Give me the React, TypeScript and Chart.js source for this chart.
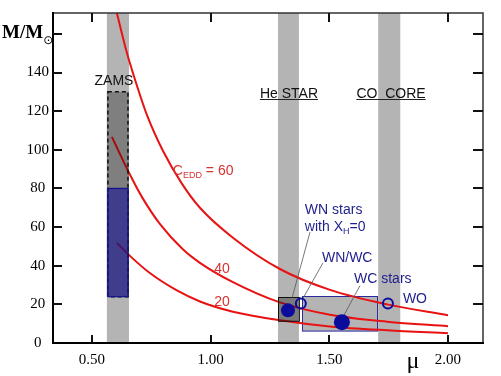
import React, { useEffect, useRef } from "react";
import { Chart, registerables } from "chart.js";
Chart.register(...registerables);

// ---------- axes ----------
const X_MIN = 0.336;
const X_MAX = 2.1475;
const Y_MIN = 0;
const Y_MAX = 170.8;
const xTickValues = [0.5, 1.0, 1.5, 2.0];
const yTickValues = [0, 20, 40, 60, 80, 100, 120, 140];
const yFrameTicks = [20, 40, 60, 80, 100, 120, 140, 160];

// ---------- C_EDD curves (mu, M/Msun) ----------
const c60Mu = [0.605, 0.647, 0.681, 0.732, 0.799, 0.879, 0.955, 1.094, 1.292, 1.503, 1.743, 2.0];
const c60M = [170.8, 150.3, 136.5, 117.9, 99.5, 82.5, 70.0, 54.5, 38.3, 27.5, 20.0, 14.4];
const c40Mu = [0.584, 0.66, 0.711, 0.787, 0.883, 0.955, 1.094, 1.292, 1.503, 1.743, 2.0];
const c40M = [106.7, 87.2, 75.5, 61.5, 48.5, 41.5, 31.5, 21.0, 14.6, 11.0, 8.7];
const c20Mu = [0.605, 0.66, 0.744, 0.858, 0.955, 1.094, 1.292, 1.503, 1.743, 2.0];
const c20M = [51.8, 45.1, 36.2, 27.2, 21.5, 16.2, 11.8, 8.6, 6.6, 5.1];

// ---------- grey evolutionary bands (mu ranges) ----------
const bandFrom = [0.563, 1.284, 1.706];
const bandTo = [0.656, 1.372, 1.799];

// ---------- boxes ----------
const zamsMu = [0.563, 0.656];
const zamsGreyM = [80, 130];
const zamsBlueM = [24, 80];
const wnBoxMu = [1.284, 1.372];
const wnBoxM = [11.3, 23.6];
const wcBoxMu = [1.385, 1.701];
const wcBoxM = [6.2, 24.1];

// ---------- stars ----------
const filledMu = [1.326, 1.553];
const filledM = [16.9, 10.8];
const filledRadius = [7, 8];
const openMu = [1.38, 1.747];
const openM = [20.5, 20.5];

// ---------- styles ----------
const SERIF = "'Liberation Serif', 'Times New Roman', serif";
const SANS = "'Liberation Sans', Arial, sans-serif";
const BAND = "#b4b4b4";
const RED = "rgb(232,18,18)";
const RED_TEXT = "#d83232";
const NAVY = "#1e1e8c";
const STAR_BLUE = "#0c0c9c";

type Part = { t: string; sub?: boolean };
type Label = { parts: Part[]; mu: number; m: number; color: string; align: "left" | "center"; underline?: boolean };

const labels: Label[] = [
  { parts: [{ t: "ZAMS" }], mu: 0.593, m: 133.3, color: "#111", align: "center" },
  { parts: [{ t: "He STAR" }], mu: 1.33, m: 126.7, color: "#111", align: "center", underline: true },
  { parts: [{ t: "CO  CORE" }], mu: 1.76, m: 126.7, color: "#111", align: "center", underline: true },
  { parts: [{ t: "C" }, { t: "EDD", sub: true }, { t: " = 60" }], mu: 0.841, m: 87.2, color: RED_TEXT, align: "left" },
  { parts: [{ t: "40" }], mu: 1.048, m: 36.4, color: RED_TEXT, align: "center" },
  { parts: [{ t: "20" }], mu: 1.048, m: 19.0, color: RED_TEXT, align: "center" },
  { parts: [{ t: "WN stars" }], mu: 1.397, m: 66.7, color: NAVY, align: "left" },
  { parts: [{ t: "with X" }, { t: "H", sub: true }, { t: "=0" }], mu: 1.397, m: 57.9, color: NAVY, align: "left" },
  { parts: [{ t: "WN/WC" }], mu: 1.469, m: 42.0, color: NAVY, align: "left" },
  { parts: [{ t: "WC stars" }], mu: 1.604, m: 30.8, color: NAVY, align: "left" },
  { parts: [{ t: "WO" }], mu: 1.81, m: 20.5, color: NAVY, align: "left" },
];

const leaders = [
  [1.4186, 57.4, 1.3427, 23.1],
  [1.4734, 41.5, 1.3891, 23.1],
  [1.6293, 29.7, 1.5619, 14.4],
];

function pts(xs: number[], ys: number[]) {
  return xs.map((x, i) => ({ x, y: ys[i] }));
}

function drawParts(ctx: CanvasRenderingContext2D, parts: Part[], x: number, y: number, size: number, color: string, align: string) {
  const main = `${size}px ${SANS}`;
  const sub = `${Math.round(size * 0.64)}px ${SANS}`;
  let w = 0;
  const ws: number[] = [];
  for (const p of parts) {
    ctx.font = p.sub ? sub : main;
    const pw = ctx.measureText(p.t).width;
    ws.push(pw);
    w += pw;
  }
  let cx = align === "center" ? x - w / 2 : x;
  const left = cx;
  ctx.fillStyle = color;
  ctx.textBaseline = "alphabetic";
  ctx.textAlign = "left";
  parts.forEach((p, i) => {
    ctx.font = p.sub ? sub : main;
    ctx.fillText(p.t, cx, p.sub ? y + 3 : y);
    cx += ws[i];
  });
  return { left, width: w };
}

const overlayPlugin = {
  id: "overlay",
  beforeDatasetsDraw(chart: any) {
    const { ctx, chartArea: a, scales } = chart;
    const x = scales.x, y = scales.y;
    chart.$boxesDone = false;
    ctx.save();
    ctx.beginPath();
    ctx.rect(a.left, a.top, a.right - a.left, a.bottom - a.top);
    ctx.clip();
    ctx.fillStyle = BAND;
    bandFrom.forEach((lo, i) => {
      const x0 = x.getPixelForValue(lo);
      const x1 = x.getPixelForValue(bandTo[i]);
      ctx.fillRect(x0, a.top, x1 - x0, a.bottom - a.top);
    });
    // WC/WO region box
    const bx0 = x.getPixelForValue(wcBoxMu[0]);
    const bx1 = x.getPixelForValue(wcBoxMu[1]);
    const by0 = y.getPixelForValue(wcBoxM[1]);
    const by1 = y.getPixelForValue(wcBoxM[0]);
    ctx.fillStyle = BAND;
    ctx.fillRect(bx0, by0, bx1 - bx0, by1 - by0);
    ctx.strokeStyle = "#2a2a9e";
    ctx.lineWidth = 1;
    ctx.strokeRect(Math.round(bx0) + 0.5, Math.round(by0) + 0.5, bx1 - bx0, by1 - by0);
    ctx.restore();
  },
  beforeDatasetDraw(chart: any, args: any) {
    const ds = chart.data.datasets[args.index];
    if (!ds.isMarker || chart.$boxesDone) return;
    chart.$boxesDone = true;
    const { ctx, scales } = chart;
    const x = scales.x, y = scales.y;
    ctx.save();
    const zx0 = x.getPixelForValue(zamsMu[0]);
    const zx1 = x.getPixelForValue(zamsMu[1]);
    // grey ZAMS box
    const gy0 = y.getPixelForValue(zamsGreyM[1]);
    const gy1 = y.getPixelForValue(zamsGreyM[0]);
    ctx.fillStyle = "rgba(0,0,0,0.29)";
    ctx.fillRect(zx0, gy0, zx1 - zx0, gy1 - gy0);
    // blue ZAMS box
    const by0 = y.getPixelForValue(zamsBlueM[1]);
    const by1 = y.getPixelForValue(zamsBlueM[0]);
    ctx.fillStyle = "rgba(24,21,127,0.75)";
    ctx.fillRect(zx0, by0, zx1 - zx0, by1 - by0);
    // dashed outline
    ctx.setLineDash([4, 3]);
    ctx.strokeStyle = "#111";
    ctx.lineWidth = 1.5;
    ctx.strokeRect(zx0 + 1, gy0, zx1 - zx0 - 2, by1 - gy0);
    ctx.setLineDash([]);
    ctx.strokeStyle = "#16168a";
    ctx.lineWidth = 1.3;
    ctx.strokeRect(zx0 + 1, by0, zx1 - zx0 - 2, by1 - by0);
    // WN box
    const wx0 = x.getPixelForValue(wnBoxMu[0]);
    const wx1 = x.getPixelForValue(wnBoxMu[1]);
    const wy0 = y.getPixelForValue(wnBoxM[1]);
    const wy1 = y.getPixelForValue(wnBoxM[0]);
    ctx.fillStyle = "rgba(0,0,0,0.32)";
    ctx.fillRect(wx0, wy0, wx1 - wx0, wy1 - wy0);
    ctx.strokeStyle = "#111";
    ctx.lineWidth = 1;
    ctx.strokeRect(Math.round(wx0) + 0.5, Math.round(wy0) + 0.5, wx1 - wx0, wy1 - wy0);
    // leader lines
    ctx.strokeStyle = "#555";
    ctx.lineWidth = 0.8;
    for (const [m1, v1, m2, v2] of leaders) {
      ctx.beginPath();
      ctx.moveTo(x.getPixelForValue(m1), y.getPixelForValue(v1));
      ctx.lineTo(x.getPixelForValue(m2), y.getPixelForValue(v2));
      ctx.stroke();
    }
    ctx.restore();
  },
  afterDraw(chart: any) {
    const { ctx, chartArea: a, scales } = chart;
    const x = scales.x, y = scales.y;
    ctx.save();
    // labels
    for (const l of labels) {
      const px = x.getPixelForValue(l.mu);
      const py = y.getPixelForValue(l.m);
      const r = drawParts(ctx, l.parts, px, py, 14, l.color, l.align);
      if (l.underline) {
        ctx.strokeStyle = "#222";
        ctx.lineWidth = 1;
        ctx.beginPath();
        ctx.moveTo(r.left, Math.round(py) + 1.5);
        ctx.lineTo(r.left + r.width, Math.round(py) + 1.5);
        ctx.stroke();
      }
    }
    // frame
    ctx.strokeStyle = "#333";
    ctx.lineWidth = 1.5;
    ctx.beginPath();
    ctx.moveTo(a.left, a.top);
    ctx.lineTo(a.right, a.top);
    ctx.lineTo(a.right, a.bottom);
    ctx.stroke();
    ctx.strokeStyle = "#000";
    ctx.lineWidth = 2;
    ctx.beginPath();
    ctx.moveTo(a.left, a.top - 1);
    ctx.lineTo(a.left, a.bottom);
    ctx.lineTo(a.right + 1, a.bottom);
    ctx.stroke();
    // inward ticks
    ctx.lineWidth = 2;
    ctx.strokeStyle = "#111";
    for (const v of xTickValues) {
      const px = Math.round(x.getPixelForValue(v));
      ctx.beginPath();
      ctx.moveTo(px, a.bottom);
      ctx.lineTo(px, a.bottom - 8);
      ctx.moveTo(px, a.top);
      ctx.lineTo(px, a.top + 9);
      ctx.stroke();
    }
    for (const v of yFrameTicks) {
      const py = Math.round(y.getPixelForValue(v));
      ctx.beginPath();
      ctx.moveTo(a.left, py);
      ctx.lineTo(a.left + 9, py);
      ctx.moveTo(a.right, py);
      ctx.lineTo(a.right - 10, py);
      ctx.stroke();
    }
    // axis titles
    ctx.fillStyle = "#000";
    ctx.textAlign = "left";
    ctx.textBaseline = "alphabetic";
    ctx.font = `bold 19px ${SERIF}`;
    ctx.fillText("M/M", 2, 38);
    const mw = ctx.measureText("M/M").width;
    ctx.font = `12px 'DejaVu Sans', sans-serif`;
    ctx.fillText("\u2299", 2 + mw, 44);
    ctx.font = `24px ${SERIF}`;
    ctx.textAlign = "center";
    ctx.fillText("\u03bc", 413, 368);
    ctx.restore();
  },
};

export default function App() {
  const ref = useRef<HTMLCanvasElement>(null);
  useEffect(() => {
    const canvas = ref.current!;
    const curve = (xs: number[], ys: number[]) => ({
      data: pts(xs, ys),
      showLine: true,
      borderColor: RED,
      borderWidth: 2,
      pointRadius: 0,
      cubicInterpolationMode: "monotone",
      fill: false,
      order: 1,
    });
    const chart = new Chart(canvas, {
      type: "scatter",
      data: {
        datasets: [
          {
            data: pts(filledMu, filledM),
            pointRadius: filledRadius,
            pointBackgroundColor: STAR_BLUE,
            pointBorderColor: STAR_BLUE,
            pointBorderWidth: 0,
            order: 0,
            isMarker: true,
          } as any,
          {
            data: pts(openMu, openM),
            pointRadius: 5,
            pointBackgroundColor: "rgba(0,0,0,0)",
            pointBorderColor: STAR_BLUE,
            pointBorderWidth: 2,
            order: 0,
            isMarker: true,
          } as any,
          curve(c60Mu, c60M) as any,
          curve(c40Mu, c40M) as any,
          curve(c20Mu, c20M) as any,
        ],
      },
      options: {
        responsive: false,
        animation: false,
        events: [],
        layout: { padding: { top: 10, right: 18, left: 0, bottom: 0 } },
        plugins: { legend: { display: false }, tooltip: { enabled: false } },
        scales: {
          x: {
            type: "linear",
            min: X_MIN,
            max: X_MAX,
            grid: { display: false, drawTicks: false },
            border: { display: false },
            afterBuildTicks: (s: any) => {
              s.ticks = xTickValues.map((v) => ({ value: v }));
            },
            afterFit: (s: any) => {
              s.height = 33;
            },
            ticks: {
              callback: (v: any) => Number(v).toFixed(2),
              font: { family: SERIF, size: 15 },
              color: "#000",
              padding: 8,
              maxRotation: 0,
              autoSkip: false,
            },
          },
          y: {
            type: "linear",
            min: Y_MIN,
            max: Y_MAX,
            grid: { display: false, drawTicks: false },
            border: { display: false },
            afterBuildTicks: (s: any) => {
              s.ticks = yTickValues.map((v) => ({ value: v }));
            },
            afterFit: (s: any) => {
              s.width = 53;
            },
            ticks: {
              callback: (v: any) => String(v),
              font: { family: SERIF, size: 15 },
              color: "#000",
              padding: 4,
              crossAlign: "center",
              autoSkip: false,
            },
          },
        },
      },
      plugins: [overlayPlugin],
    } as any);
    return () => chart.destroy();
  }, []);
  return (
    <div style={{ position: "absolute", left: 0, top: 0, width: 501, height: 376, background: "#fff" }}>
      <canvas ref={ref} width={501} height={376} style={{ display: "block" }} />
    </div>
  );
}
